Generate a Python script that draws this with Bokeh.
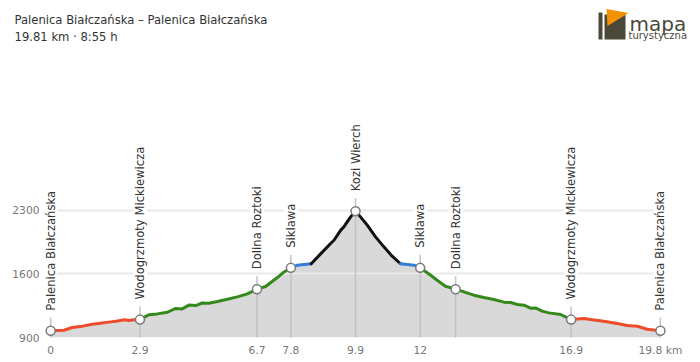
import numpy as np
from bokeh.plotting import figure
from bokeh.layouts import column
from bokeh.models import FixedTicker, Label, Range1d
from bokeh.embed import file_html
from bokeh.resources import INLINE

# ---------------- data ----------------
title_text = "Palenica Białczańska – Palenica Białczańska"
subtitle_text = "19.81 km · 8:55 h"
logo_word = "mapa"
logo_sub = "turystyczna"

km = [0.00, 0.43, 0.70, 1.03, 1.35, 1.62, 1.95, 2.17, 2.40, 2.54, 2.71, 2.90,
      3.19, 3.46, 3.79, 4.06, 4.27, 4.49, 4.71, 4.92, 5.14, 5.41, 5.74, 6.06,
      6.39, 6.70, 6.98, 7.36, 7.58, 7.80,
      8.01, 8.46,
      8.75, 9.09, 9.20, 9.42, 9.52, 9.74, 9.90, 10.06, 10.28, 10.55, 10.82, 11.09, 11.36,
      11.80, 12.00,
      12.34, 12.55, 12.82, 13.15, 13.42, 13.74, 14.07, 14.39, 14.72, 14.94, 15.15,
      15.37, 15.58, 15.75, 15.96, 16.18, 16.56, 16.90,
      17.32, 17.53, 17.96, 18.40, 18.72, 19.05, 19.37, 19.80]
elev = [975, 980, 1010, 1025, 1045, 1058, 1072, 1082, 1095, 1087, 1095, 1097,
        1150, 1160, 1178, 1220, 1215, 1257, 1252, 1280, 1278, 1296, 1322, 1347,
        1380, 1432, 1462, 1560, 1622, 1667,
        1696, 1712,
        1815, 1935, 1971, 2082, 2118, 2228, 2291, 2228, 2137, 2008, 1898, 1795, 1712,
        1696, 1667,
        1586, 1531, 1465, 1432, 1402, 1366, 1340, 1318, 1289, 1285, 1263,
        1256, 1223, 1226, 1190, 1171, 1153, 1097,
        1109, 1098, 1080, 1054, 1032, 1024, 991, 975]

seg_bounds = [0.0, 2.9, 7.8, 8.46, 11.36, 12.0, 16.9, 19.8]
seg_colors = ["#ee4b2b", "#338a1a", "#2f7ed8", "#111111", "#2f7ed8", "#338a1a", "#ee4b2b"]

wp_names = ["Palenica Białczańska", "Wodogrzmoty Mickiewicza", "Dolina Roztoki", "Siklawa",
            "Kozi Wierch", "Siklawa", "Dolina Roztoki", "Wodogrzmoty Mickiewicza",
            "Palenica Białczańska"]
wp_km = [0.0, 2.9, 6.7, 7.8, 9.9, 12.0, 13.15, 16.9, 19.8]
wp_elev = [975, 1097, 1432, 1667, 2291, 1667, 1432, 1097, 975]

x_ticks = [0, 2.9, 6.7, 7.8, 9.9, 12, 16.9, 19.8]
x_tick_labels = ["0", "2.9", "6.7", "7.8", "9.9", "12", "16.9", "19.8 km"]
y_ticks = [900, 1600, 2300]

FONT = "DejaVu Sans"
TXT = "#333333"

# ---------------- header (title + logo) ----------------
HEAD_H = 60
h = figure(width=700, height=HEAD_H, x_range=Range1d(0, 700), y_range=Range1d(HEAD_H, 0),
           output_backend="svg", toolbar_location=None,
           x_axis_location=None, y_axis_location=None, min_border=0)
h.outline_line_color = None
h.grid.visible = False
h.frame_align = False

h.add_layout(Label(x=14, y=19, text=title_text, text_baseline="middle",
                   text_font=FONT, text_font_size="11.6px", text_color=TXT))
h.add_layout(Label(x=14, y=36, text=subtitle_text, text_baseline="middle",
                   text_font=FONT, text_font_size="11.6px", text_color=TXT))

LOGO_DARK = "#4a4939"
LOGO_ORANGE = "#f39200"
h.patch([598, 602, 602, 598], [12, 12, 39, 39], fill_color=LOGO_DARK, line_color=None)
h.patch([604, 625, 625, 604], [14, 14, 39, 39], fill_color=LOGO_DARK, line_color=None)
h.patch([606, 628, 607], [8.5, 12.5, 25.5], fill_color=LOGO_ORANGE, line_color=None)
h.add_layout(Label(x=629, y=23.5, text=logo_word, text_baseline="alphabetic",
                   text_font=FONT, text_font_size="20px", text_color=LOGO_DARK))
h.add_layout(Label(x=628, y=34.5, text=logo_sub, text_baseline="alphabetic",
                   text_font=FONT, text_font_size="10px", text_color=LOGO_DARK))

# ---------------- profile figure ----------------
Y0, Y1 = 900, 3950
FRAME_H = 277
X0, X1 = -0.2, 20.03

p = figure(width=700, height=362 - HEAD_H, x_range=Range1d(X0, X1), y_range=Range1d(Y0, Y1),
           output_backend="svg", toolbar_location=None,
           min_border_left=44, min_border_right=33, min_border_top=0, min_border_bottom=25)
p.outline_line_color = None
p.frame_align = False

p.xgrid.grid_line_color = None
p.ygrid.ticker = FixedTicker(ticks=y_ticks)
p.ygrid.grid_line_color = "#e9e9e9"
p.ygrid.grid_line_width = 2
p.ygrid.level = "glyph"

for ax in (p.xaxis[0], p.yaxis[0]):
    ax.axis_line_color = None
    ax.major_tick_line_color = None
    ax.minor_tick_line_color = None
    ax.major_tick_out = 0
    ax.major_tick_in = 0
    ax.major_label_text_color = "#777777"
    ax.major_label_text_font = FONT
    ax.major_label_text_font_size = "10.7px"

p.yaxis.ticker = FixedTicker(ticks=y_ticks)
p.yaxis.major_label_standoff = 5
p.xaxis.ticker = FixedTicker(ticks=x_ticks)
p.xaxis.major_label_overrides = {float(t): l for t, l in zip(x_ticks, x_tick_labels)}
p.xaxis.major_label_standoff = 6

# area
p.varea(x=km, y1=[Y0] * len(km), y2=elev, fill_color="#d9d9d9", level="underlay")

# waypoint vertical lines
px_per_m = FRAME_H / (Y1 - Y0)
tick_above = 13 / px_per_m
p.segment(x0=wp_km, y0=[Y0] * len(wp_km), x1=wp_km, y1=[e + tick_above for e in wp_elev],
          line_color="#c2c2c2", line_width=1.5, level="guide")

# coloured profile
km_a = np.array(km)
el_a = np.array(elev)
for i, c in enumerate(seg_colors):
    lo, hi = seg_bounds[i], seg_bounds[i + 1]
    m = (km_a >= lo - 1e-9) & (km_a <= hi + 1e-9)
    p.line(km_a[m], el_a[m], line_color=c, line_width=3, line_join="round", line_cap="round",
           level="guide")

p.scatter(wp_km, wp_elev, size=9, fill_color="white", line_color="#7a7a7a", line_width=1.5,
          level="guide")

# waypoint labels
for n, x, e in zip(wp_names, wp_km, wp_elev):
    p.add_layout(Label(x=x, y=e, y_offset=20, text=n, angle=np.pi / 2,
                       text_align="left", text_baseline="middle",
                       text_font=FONT, text_font_size="11.6px", text_color=TXT,
                       background_fill_color="white"))

open("out.html", "w").write(file_html(column(h, p), INLINE))
